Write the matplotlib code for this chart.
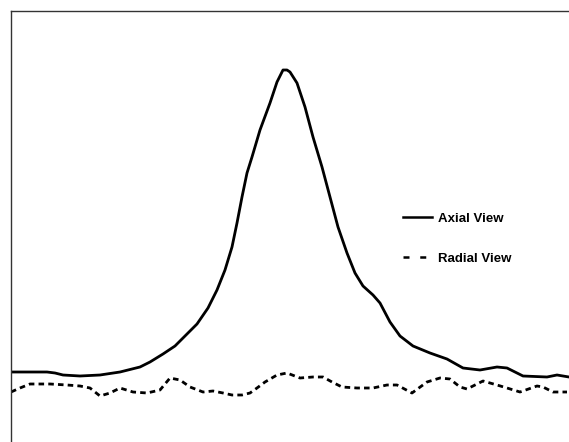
import matplotlib
matplotlib.use("Agg")
import matplotlib.pyplot as plt
from matplotlib.lines import Line2D

# Position (arbitrary units) and intensity (arbitrary units)
axial_x = [0, 19, 36, 44, 52, 69, 89, 109, 129, 139, 152, 164, 172, 186, 197, 206,
           214, 221, 226, 231, 236, 241, 249, 259, 266, 272, 276, 279, 286, 294, 302,
           311, 319, 327, 336, 344, 352, 362, 369, 379, 389, 402, 419, 436, 452, 469,
           486, 496, 504, 512, 536, 546, 558]
axial_y = [70, 70, 70, 69, 67, 66, 67, 70, 75, 80, 88, 96, 104, 118, 134, 152,
           172, 195, 219, 245, 269, 285, 312, 339, 360, 372, 372, 370, 359, 335, 305,
           275, 245, 215, 189, 169, 156, 147, 139, 120, 106, 96, 89, 83, 74, 72,
           75, 74, 70, 66, 65, 67, 65]

radial_x = [0, 9, 19, 39, 56, 69, 79, 89, 99, 109, 122, 136, 149, 159, 169, 179, 192,
            202, 212, 221, 231, 239, 246, 254, 266, 276, 289, 302, 312, 321, 331, 346,
            362, 376, 386, 401, 416, 429, 439, 449, 456, 472, 486, 496, 509, 526, 532,
            542, 556]
radial_y = [50, 54, 58, 58, 57, 56, 54, 46, 49, 54, 50, 49, 52, 64, 62, 55, 50,
            51, 49, 47, 47, 49, 54, 60, 67, 69, 64, 65, 65, 60, 55, 54,
            54, 57, 57, 49, 60, 64, 63, 55, 53, 61, 57, 54, 50, 56, 55,
            50, 50]

labels = ["Axial View", "Radial View"]

fig = plt.figure(figsize=(5.69, 4.42), dpi=100)
ax = fig.add_axes([11 / 569, 0.0, 1 - 11 / 569, 1 - 11 / 442])
lw = 2.0
ax.plot(axial_x, axial_y, color="black", lw=lw, solid_joinstyle="round",
        solid_capstyle="round")
ax.plot(radial_x, radial_y, color="black", lw=lw, linestyle=(0, (2.0, 1.5)))
ax.set_xlim(0, 558)
ax.set_ylim(0, 431)
ax.set_xticks([])
ax.set_yticks([])
for s in ["bottom", "right"]:
    ax.spines[s].set_visible(False)
for s in ["left", "top"]:
    ax.spines[s].set_linewidth(1.0)
    ax.spines[s].set_color("#333333")

handles = [Line2D([], [], color="black", lw=1.8),
           Line2D([], [], color="black", lw=1.8, linestyle=(0, (2.4, 4.3)))]
leg = ax.legend(handles, labels, frameon=False, loc="upper left",
                bbox_to_anchor=(396 / 569, 1 - 206 / 442), bbox_transform=fig.transFigure,
                prop={"family": "Liberation Sans", "weight": "bold", "size": 9.5},
                handlelength=2.2, handletextpad=0.45, labelspacing=2.1, borderpad=0)

fig.savefig("out.png", dpi=100)
